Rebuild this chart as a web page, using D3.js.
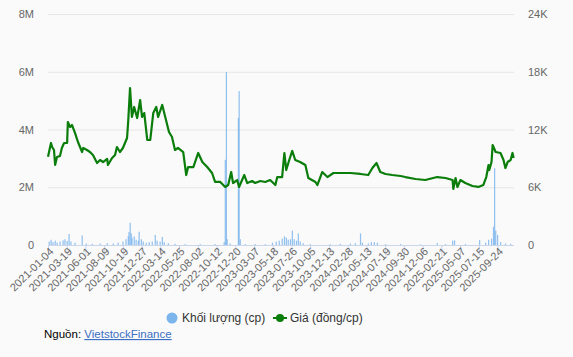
<!DOCTYPE html>
<html>
<head>
<meta charset="utf-8">
<script src="https://cdn.jsdelivr.net/npm/d3@7/dist/d3.min.js"></script>
<style>
  html, body { margin: 0; padding: 0; background: #fafafa; }
  svg { display: block; font-family: "Liberation Sans", Arial, sans-serif; }
</style>
</head>
<body>
<svg id="chart" width="573" height="357"></svg>
<script>
// ---- DATA ----
const dateLabels = ["2021-01-04","2021-03-19","2021-06-01","2021-08-09","2021-10-19","2021-12-27",
  "2022-03-14","2022-05-25","2022-08-02","2022-10-12","2022-12-20","2023-03-07","2023-05-18",
  "2023-07-26","2023-10-05","2023-12-13","2024-02-28","2024-05-13","2024-07-19","2024-09-30",
  "2024-12-06","2025-02-21","2025-05-07","2025-07-15","2025-09-24"];
const labelStep = 50;          // trading days between labels
const totalDays = 1245;        // trading sessions shown

// price (VND thousand) at trading-day index
const priceDay = [0,8,11,16,19,24,32,37,43,51,53,59,64,72,80,91,94,104,112,120,131,139,147,158,160,171,179,184,192,200,
  211,214,219,224,230,238,246,251,257,265,273,281,289,294,305,313,323,331,339,347,361,369,374,388,401,412,425,438,446,460,
  473,481,489,494,505,510,524,532,545,553,567,580,593,607,612,625,631,636,644,652,660,673,687,695,714,719,732,746,762,780,
  807,834,855,866,877,887,901,919,941,954,981,1007,1039,1061,1080,1082,1088,1093,1101,1114,1133,1149,1162,1170,1176,1178,
  1184,1187,1195,1208,1216,1221,1227,1235,1240,1243];
const priceValue = [9.17,10.60,10.18,9.87,8.31,9.14,9.25,10.08,10.60,10.60,12.78,12.26,12.47,11.64,10.70,9.66,10.08,9.87,9.66,9.35,
  8.52,8.83,8.62,8.94,8.31,9.04,9.35,10.18,9.66,10.08,11.12,12.78,16.31,13.30,14.34,13.19,15.06,13.30,13.71,10.91,
  10.91,13.71,14.34,13.30,14.55,13.30,11.74,11.22,9.87,10.08,9.66,7.27,8.10,8.10,9.56,8.62,8.10,7.48,6.55,6.55,
  6.03,6.23,7.58,6.44,6.75,6.03,7.27,6.44,6.65,6.44,6.65,6.55,6.75,6.23,7.06,7.06,9.56,7.79,8.83,9.77,
  8.83,8.62,8.31,6.96,6.55,6.23,7.58,7.06,7.48,7.48,7.48,7.38,7.27,8.00,8.52,7.58,7.38,7.27,7.17,7.06,
  6.86,6.75,7.06,6.96,6.75,5.82,6.96,6.03,6.75,6.44,6.13,6.03,6.23,7.06,8.31,7.79,8.62,10.39,9.66,9.56,
  8.83,8.00,8.62,8.83,9.56,9.04];

// volume (million shares) at trading-day index
const volDay = [3,8,13,19,24,32,40,45,51,56,61,72,91,102,118,139,158,174,187,200,208,214,216,219,222,224,230,235,241,243,
  249,254,262,270,278,286,291,299,305,310,321,339,366,406,446,470,473,476,478,486,508,510,513,526,553,580,599,609,617,625,
  631,636,641,647,652,657,663,668,673,681,700,753,780,807,820,834,839,855,863,871,879,901,941,994,1039,1061,1080,1085,1114,1152,
  1168,1176,1184,1189,1192,1195,1200,1208,1221,1235];
const volValue = [0.12,0.18,0.10,0.15,0.08,0.12,0.16,0.20,0.14,0.38,0.12,0.08,0.33,0.05,0.04,0.05,0.06,0.05,0.08,0.12,
  0.20,0.30,0.45,0.77,0.40,0.25,0.30,0.18,0.15,0.46,0.20,0.12,0.08,0.10,0.12,0.35,0.15,0.12,0.28,0.10,
  0.06,0.04,0.03,0.03,0.03,0.10,2.95,5.99,0.20,0.05,4.40,5.33,0.20,0.03,0.03,0.03,0.08,0.12,0.15,0.22,
  0.30,0.25,0.18,0.20,0.50,0.20,0.15,0.40,0.12,0.06,0.03,0.03,0.04,0.05,0.06,0.40,0.08,0.05,0.10,0.10,
  0.08,0.03,0.03,0.02,0.07,0.03,0.15,0.16,0.03,0.17,0.08,0.18,0.22,0.63,2.66,0.50,0.35,0.10,0.05,0.04];

const volTicks = [0, 2, 4, 6, 8];
const priceTicks = [0, 6, 12, 18, 24];
const legendNames = ["Khối lượng (cp)", "Giá (đồng/cp)"];
const volColor = "#7cb5ec", priceColor = "#0a7d0a";

// ---- LAYOUT ----
const svg = d3.select("#chart");
const plotL = 48, plotR = 514, plotT = 14, plotB = 245;

const x = d3.scaleLinear().domain([0, totalDays - 1]).range([plotL, plotR]);
const yVol = d3.scaleLinear().domain([0, 8]).range([plotB, plotT]);
const yPrice = d3.scaleLinear().domain([0, 24]).range([plotB, plotT]);

// gridlines
svg.append("g").selectAll("line").data(volTicks).join("line")
  .attr("x1", plotL).attr("x2", plotR)
  .attr("y1", d => yVol(d) + 0.5).attr("y2", d => yVol(d) + 0.5)
  .attr("stroke", "#e6e6e6").attr("stroke-width", 1);

// left axis labels
svg.append("g").selectAll("text").data(volTicks).join("text")
  .attr("x", 34).attr("y", d => yVol(d) + 4)
  .attr("text-anchor", "end").attr("font-size", 11).attr("fill", "#666")
  .text(d => d === 0 ? "0" : d + "M");

// right axis labels
svg.append("g").selectAll("text").data(priceTicks).join("text")
  .attr("x", 528).attr("y", d => yPrice(d) + 4)
  .attr("text-anchor", "start").attr("font-size", 11).attr("fill", "#666")
  .text(d => d === 0 ? "0" : d + "K");

// volume bars
const vols = volDay.map((d, i) => ({ d, v: volValue[i] }));
svg.append("g").selectAll("rect").data(vols).join("rect")
  .attr("x", d => x(d.d) - 0.5).attr("width", 1.2)
  .attr("y", d => yVol(d.v)).attr("height", d => plotB - yVol(d.v))
  .attr("fill", volColor).attr("opacity", 0.85);

// bottom axis
const tickVals = dateLabels.map((_, i) => i * labelStep);
const xAxis = d3.axisBottom(x).tickValues(tickVals).tickSize(10)
  .tickFormat((d, i) => dateLabels[i]);
const gx = svg.append("g").attr("transform", `translate(0,${plotB + 0.5})`).call(xAxis);
gx.select(".domain").attr("stroke", "#ccd6eb").attr("d", `M${plotL},0H${plotR}`);
gx.selectAll(".tick line").attr("stroke", "#ccd6eb");
gx.selectAll(".tick text")
  .attr("font-size", 11).attr("fill", "#666").attr("font-family", "Liberation Sans, Arial, sans-serif")
  .attr("text-anchor", "end")
  .attr("transform", "translate(3,4) rotate(-45)")
  .attr("dy", "0.35em").attr("y", 0).attr("x", 0);

// price line
const prices = priceDay.map((d, i) => ({ d, v: priceValue[i] }));
svg.append("path").datum(prices)
  .attr("fill", "none").attr("stroke", priceColor).attr("stroke-width", 2.2)
  .attr("stroke-linejoin", "round")
  .attr("d", d3.line().x(d => x(d.d)).y(d => yPrice(d.v)));

// legend
const lg = svg.append("g");
lg.append("circle").attr("cx", 172).attr("cy", 318).attr("r", 5.5).attr("fill", volColor);
lg.append("text").attr("x", 182).attr("y", 322).attr("font-size", 12).attr("fill", "#333")
  .text(legendNames[0]);
lg.append("line").attr("x1", 273).attr("x2", 287).attr("y1", 318).attr("y2", 318)
  .attr("stroke", priceColor).attr("stroke-width", 2);
lg.append("circle").attr("cx", 280).attr("cy", 318).attr("r", 4).attr("fill", priceColor);
lg.append("text").attr("x", 290).attr("y", 322).attr("font-size", 12).attr("fill", "#333")
  .text(legendNames[1]);

// source
const src = svg.append("text").attr("x", 44).attr("y", 338).attr("font-size", 11.5).attr("fill", "#000");
src.append("tspan").text("Nguồn: ");
src.append("tspan").attr("fill", "#3a6fc4").attr("text-decoration", "underline").text("VietstockFinance");
</script>
</body>
</html>
